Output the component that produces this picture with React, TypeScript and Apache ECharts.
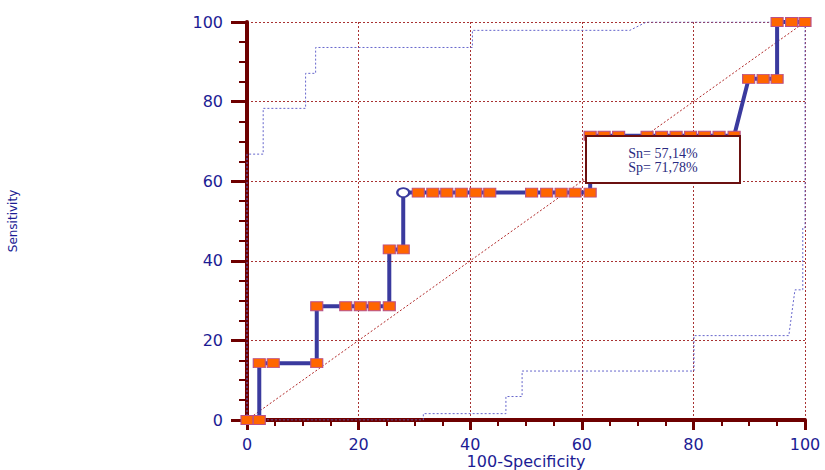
import React, { useEffect, useRef } from "react";
import * as echarts from "echarts";

// ROC curve points (100-Specificity, Sensitivity)
const rocX = [0, 2.2, 2.2, 4.7, 12.5, 12.5, 17.7, 20.3, 22.8, 25.5, 25.5, 28.0, 28.0, 30.7, 33.3, 35.8, 38.4, 41.0, 43.5, 51.0, 53.7, 56.3, 58.8, 61.5, 61.5, 64.0, 66.6, 71.7, 74.3, 76.9, 79.5, 82.0, 84.6, 87.3, 89.9, 92.5, 95.0, 95.0, 97.6, 100];
const rocY = [0, 0, 14.29, 14.29, 14.29, 28.57, 28.57, 28.57, 28.57, 28.57, 42.86, 42.86, 57.14, 57.14, 57.14, 57.14, 57.14, 57.14, 57.14, 57.14, 57.14, 57.14, 57.14, 57.14, 71.43, 71.43, 71.43, 71.43, 71.43, 71.43, 71.43, 71.43, 71.43, 71.43, 85.71, 85.71, 85.71, 100, 100, 100];
const optimalIndex = 12;

// Upper confidence bound
const upperX = [0, 0, 2.9, 2.9, 10.5, 10.5, 12.3, 12.3, 40.4, 40.4, 68.6, 71.6, 100];
const upperY = [0, 66.8, 66.8, 78.3, 78.3, 87.1, 87.1, 93.6, 93.6, 97.9, 97.9, 100, 100];

// Lower confidence bound
const lowerX = [0, 31.6, 31.6, 46.4, 46.4, 49.3, 49.3, 80.1, 80.1, 97.1, 98.2, 99.6, 99.6, 100, 100];
const lowerY = [0, 0, 1.6, 1.6, 5.9, 5.9, 12.3, 12.3, 21.2, 21.2, 32.7, 32.7, 48.3, 48.3, 100];

const diagX = [0, 100];
const diagY = [0, 100];

const annotationLines = ["Sn= 57,14%", "Sp= 71,78%"];

const AXIS_RED = "#6e0000";
const LABEL_BLUE = "#1c1c94";
const GRID_RED = "#a83232";
const LINE_BLUE = "#3a3a9e";

export default function App() {
  const ref = useRef<HTMLDivElement>(null);

  useEffect(() => {
    const chart = echarts.init(ref.current!, null, { renderer: "svg" });

    const rocData = rocX.map((x, i) => {
      if (i === optimalIndex) {
        return {
          value: [x, rocY[i]],
          symbol: "circle",
          symbolSize: [12, 9],
          itemStyle: { color: "#ffffff", borderColor: LINE_BLUE, borderWidth: 2 },
        };
      }
      return { value: [x, rocY[i]] };
    });

    const boxFont = "14px 'Liberation Serif', 'Times New Roman', serif";

    chart.setOption({
      animation: false,
      backgroundColor: "#ffffff",
      grid: { left: 247, right: 20, top: 22, bottom: 50, containLabel: false, outerBoundsMode: "none" },
      xAxis: {
        type: "value",
        min: 0,
        max: 100,
        interval: 20,
        name: "100-Specificity",
        nameLocation: "middle",
        nameGap: 41,
        nameMoveOverlap: false,
        nameTextStyle: { color: LABEL_BLUE, fontFamily: "DejaVu Sans", fontSize: 16, verticalAlign: "middle" },
        axisLine: { show: true, onZero: false, lineStyle: { color: AXIS_RED, width: 4 } },
        axisTick: { show: true, length: 10, lineStyle: { color: AXIS_RED, width: 3 } },
        minorTick: { show: true, splitNumber: 4, length: 6, lineStyle: { color: AXIS_RED, width: 2 } },
        axisLabel: { color: LABEL_BLUE, fontFamily: "DejaVu Sans", fontSize: 16, margin: 16 },
        splitLine: { show: true, lineStyle: { color: GRID_RED, width: 1, type: [2, 2] } },
      },
      yAxis: {
        type: "value",
        min: 0,
        max: 100,
        interval: 20,
        name: "Sensitivity",
        nameLocation: "middle",
        nameGap: 228,
        nameMoveOverlap: false,
        nameTextStyle: { color: LABEL_BLUE, fontFamily: "DejaVu Sans", fontSize: 12 },
        axisLine: { show: true, onZero: false, lineStyle: { color: AXIS_RED, width: 4 } },
        axisTick: { show: true, length: 16, lineStyle: { color: AXIS_RED, width: 3 } },
        minorTick: { show: true, splitNumber: 4, length: 8, lineStyle: { color: AXIS_RED, width: 2 } },
        axisLabel: { color: LABEL_BLUE, fontFamily: "DejaVu Sans", fontSize: 16, margin: 24 },
        splitLine: { show: true, lineStyle: { color: GRID_RED, width: 1, type: [2, 2] } },
      },
      series: [
        {
          type: "line",
          name: "diagonal",
          data: diagX.map((x, i) => [x, diagY[i]]),
          symbol: "none",
          silent: true,
          z: 2,
          lineStyle: { color: "#b02828", width: 1, type: [2, 2] },
        },
        {
          type: "line",
          name: "upper",
          data: upperX.map((x, i) => [x, upperY[i]]),
          symbol: "none",
          silent: true,
          z: 3,
          lineStyle: { color: "#6666cc", width: 1, type: [2, 2] },
        },
        {
          type: "line",
          name: "lower",
          data: lowerX.map((x, i) => [x, lowerY[i]]),
          symbol: "none",
          silent: true,
          z: 3,
          lineStyle: { color: "#6666cc", width: 1, type: [2, 2] },
        },
        {
          type: "line",
          name: "ROC",
          data: rocData,
          symbol: "rect",
          symbolSize: [12, 9],
          showAllSymbol: true,
          z: 5,
          lineStyle: { color: LINE_BLUE, width: 4 },
          itemStyle: { color: "#ff6600", borderColor: "#b8508a", borderWidth: 1 },
        },
      ],
      graphic: [
        {
          type: "rect",
          x: 586,
          y: 136,
          z: 100,
          shape: { x: 0, y: 0, width: 154, height: 47 },
          style: { fill: "#ffffff", stroke: "#6b1010", lineWidth: 2 },
        },
        {
          type: "text",
          x: 663,
          y: 153,
          z: 101,
          style: {
            text: annotationLines[0],
            fill: "#2a2a80",
            font: boxFont,
            textAlign: "center",
            textVerticalAlign: "middle",
          },
        },
        {
          type: "text",
          x: 663,
          y: 167,
          z: 101,
          style: {
            text: annotationLines[1],
            fill: "#2a2a80",
            font: boxFont,
            textAlign: "center",
            textVerticalAlign: "middle",
          },
        },
      ],
    });

    return () => chart.dispose();
  }, []);

  return (
    <div
      ref={ref}
      style={{ position: "fixed", left: 0, top: 0, width: 825, height: 470, background: "#ffffff" }}
    />
  );
}
